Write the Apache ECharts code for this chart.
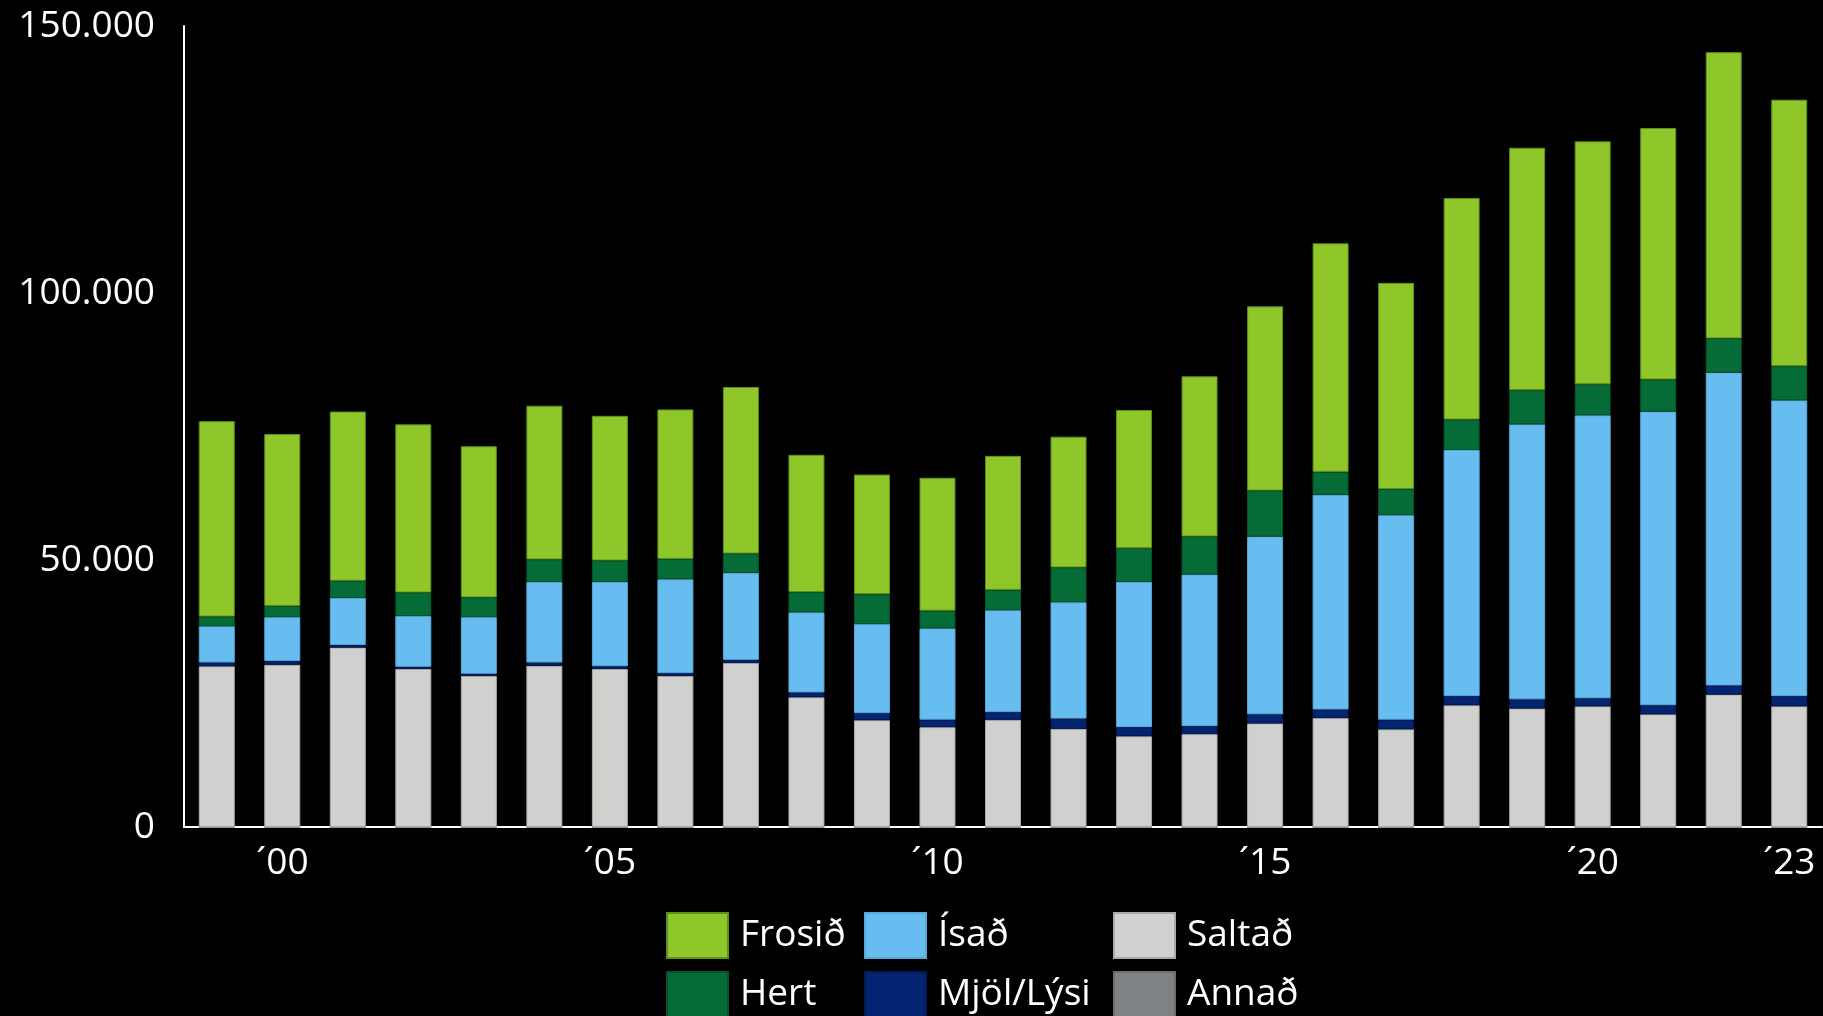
<!DOCTYPE html>
<html>
<head>
<meta charset="utf-8">
<script src="https://cdn.jsdelivr.net/npm/echarts@6/dist/echarts.min.js"></script>
<style>
  html, body { margin: 0; padding: 0; background: #000; }
  #chart { width: 1823px; height: 1016px; }
</style>
</head>
<body>
<div id="chart"></div>
<script>
// years 1999 - 2023, thousands of tonnes
const categories = ['´99', '´00', '´01', '´02', '´03', '´04', '´05', '´06', '´07', '´08', '´09',
  '´10', '´11', '´12', '´13', '´14', '´15', '´16', '´17', '´18', '´19', '´20', '´21', '´22', '´23'];
const shownLabels = ['´00', '´05', '´10', '´15', '´20', '´23'];
const yTicks = [0, 50000, 100000, 150000];

const saltad = [30100, 30400, 33600, 29600, 28300, 30200, 29600, 28300, 30700, 24300, 20000,
  18700, 20100, 18400, 17000, 17400, 19400, 20400, 18300, 22800, 22200, 22600, 21100, 24800, 22600];
const mjol = [700, 700, 500, 400, 400, 600, 500, 500, 600, 900, 1300,
  1400, 1400, 1900, 1700, 1500, 1700, 1600, 1800, 1700, 1700, 1500, 1700, 1700, 1900];
const isad = [6800, 8200, 8800, 9500, 10600, 15100, 15800, 17600, 16300, 15000, 16700,
  17100, 19100, 21800, 27200, 28400, 33300, 40200, 38300, 46100, 51500, 53000, 55000, 58600, 55400];
const hert = [1800, 2100, 3200, 4400, 3700, 4200, 4000, 3800, 3600, 3800, 5600,
  3300, 3800, 6500, 6300, 7100, 8600, 4300, 4900, 5700, 6400, 5800, 6000, 6400, 6400];
const frosid = [36600, 32200, 31700, 31500, 28300, 28800, 27100, 28000, 31200, 25700, 22400,
  24900, 25100, 24500, 25900, 30000, 34500, 42800, 38600, 41500, 45400, 45500, 47100, 53600, 49900];
const annad = [0, 0, 0, 0, 0, 0, 0, 0, 0, 0, 0, 0, 0, 0, 0, 0, 0, 0, 0, 0, 0, 0, 0, 0, 0];

const font = '"Open Sans", "Noto Sans", sans-serif';

function barSeries(name, data, color, border) {
  return {
    name: name,
    type: 'bar',
    stack: 'total',
    barWidth: 36,
    data: data,
    itemStyle: { color: color, borderColor: border, borderWidth: 1 },
    emphasis: { disabled: true }
  };
}

// one legend per entry so the 3x2 grid lines up like the original
function legendItem(left, top, name) {
  return {
    left: left,
    top: top,
    padding: 0,
    itemWidth: 61,
    itemHeight: 45,
    icon: 'rect',
    data: [name],
    selectedMode: false,
    textStyle: { color: '#fff', fontSize: 37, fontFamily: font, padding: [0, 0, 0, 7] }
  };
}

const chart = echarts.init(document.getElementById('chart'));
chart.setOption({
  backgroundColor: '#000',
  animation: false,
  grid: { left: 184, right: 1, top: 26, bottom: 189 },
  legend: [
    legendItem(666, 912, 'Frosið'),
    legendItem(666, 971, 'Hert'),
    legendItem(864, 912, 'Ísað'),
    legendItem(864, 971, 'Mjöl/Lýsi'),
    legendItem(1113, 912, 'Saltað'),
    legendItem(1113, 971, 'Annað')
  ],
  xAxis: {
    type: 'category',
    data: categories,
    axisLine: { lineStyle: { color: '#fff', width: 2 } },
    axisTick: { show: false },
    axisLabel: {
      color: '#fff',
      fontSize: 37,
      fontFamily: font,
      margin: 18,
      interval: function (i, v) { return shownLabels.indexOf(v) >= 0; }
    }
  },
  yAxis: {
    type: 'value',
    min: yTicks[0],
    max: yTicks[yTicks.length - 1],
    interval: 50000,
    splitLine: { show: false },
    axisTick: { show: false },
    axisLine: { show: true, lineStyle: { color: '#fff', width: 2 } },
    axisLabel: {
      color: '#fff',
      fontSize: 37,
      fontFamily: font,
      margin: 29,
      formatter: function (v) { return v.toLocaleString('de-DE'); }
    }
  },
  series: [
    barSeries('Annað', annad, '#7f8385', '#6a6e70'),
    barSeries('Saltað', saltad, '#d0d0ce', '#a9a9a7'),
    barSeries('Mjöl/Lýsi', mjol, '#032470', '#021a55'),
    barSeries('Ísað', isad, '#67bdf0', '#58a8d8'),
    barSeries('Hert', hert, '#056b37', '#04552c'),
    barSeries('Frosið', frosid, '#8fc629', '#5f8f1d')
  ]
});
</script>
</body>
</html>
